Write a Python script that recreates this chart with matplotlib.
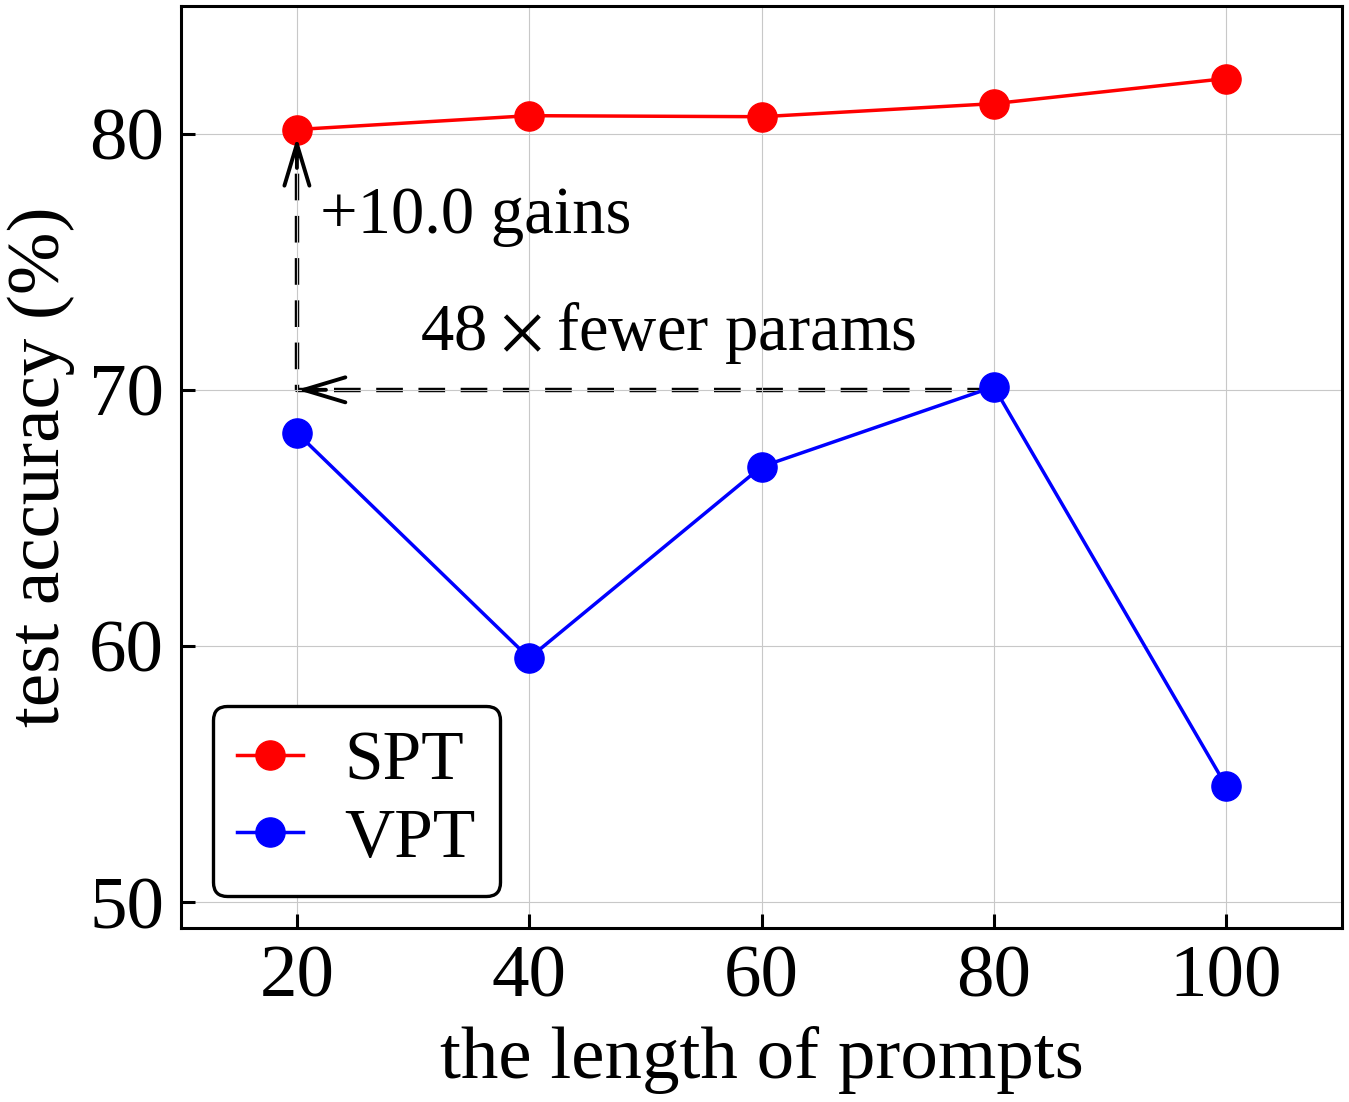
import matplotlib
matplotlib.use('Agg')
import matplotlib.pyplot as plt

prompt_lengths = [20, 40, 60, 80, 100]
spt_acc = [80.16, 80.7, 80.66, 81.17, 82.15]
vpt_acc = [68.32, 59.53, 67.0, 70.12, 54.54]

plt.rcParams['font.family'] = ['Liberation Serif', 'DejaVu Serif']
plt.rcParams['mathtext.fontset'] = 'stix'

fig, ax = plt.subplots(figsize=(13.49, 11.02), dpi=100)
fig.subplots_adjust(left=0.134, right=0.995, top=0.995, bottom=0.158)

ax.plot(prompt_lengths, spt_acc, color='red', marker='o', markersize=21, linewidth=2.5, label='SPT')
ax.plot(prompt_lengths, vpt_acc, color='blue', marker='o', markersize=21, linewidth=2.5, label='VPT')

# dashed guide lines: VPT best (80, 70) -> (20, 70) -> SPT at 20
tip_y = spt_acc[0] - 0.3
ax.plot([80, 20, 20], [70, 70, tip_y - 0.5], color='black', lw=3.2,
        linestyle=(0, (6, 3.5)), zorder=1.5)
# solid arrowheads
head_kw = dict(arrowstyle='->, head_length=1.5, head_width=0.45', linestyle='-',
               color='black', lw=2.8, mutation_scale=20, shrinkA=0, shrinkB=0)
ax.annotate('', xy=(20, 70), xytext=(22.5, 70), arrowprops=head_kw)
ax.annotate('', xy=(20, tip_y), xytext=(20, tip_y - 1.2), arrowprops=head_kw)

ax.text(22, 76.75, '+10.0 gains', fontsize=48, va='center', ha='left')
ax.text(52, 72.2, '48$\\hspace{0.08}\\times\\hspace{0.08}$fewer params', fontsize=48,
        va='center', ha='center')

ax.set_xlim(10, 110)
ax.set_ylim(49, 85)
ax.set_xticks(prompt_lengths)
ax.set_yticks([50, 60, 70, 80])
ax.tick_params(direction='in', labelsize=54, length=10, width=2.2, pad=12)
for s in ax.spines.values():
    s.set_linewidth(2.2)
ax.grid(True, color='#c8c8c8', linewidth=0.8)

ax.set_xlabel('the length of prompts', fontsize=54, labelpad=10)
ax.set_ylabel('test accuracy (%)', fontsize=54, labelpad=10)

leg = ax.legend(loc='lower left', fontsize=50, frameon=True, fancybox=True,
                edgecolor='black', framealpha=1, borderpad=0.35, handlelength=0.95,
                handletextpad=0.6, labelspacing=0.2, borderaxespad=0.46)
leg.get_frame().set_linewidth(2.4)

fig.savefig('out.png', dpi=100)
